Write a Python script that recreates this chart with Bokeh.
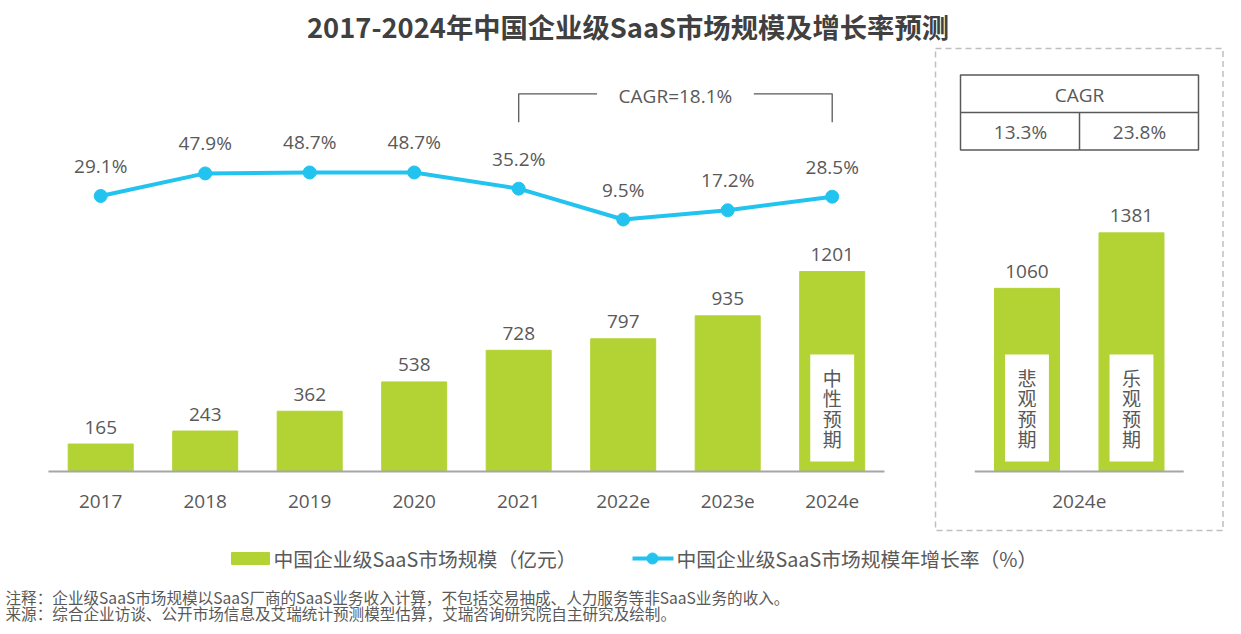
from bokeh.plotting import figure
from bokeh.models import Range1d
from bokeh.core.properties import value
from bokeh.embed import file_html
from bokeh.resources import INLINE

# ---------------- data ----------------
years = ["2017", "2018", "2019", "2020", "2021", "2022e", "2023e", "2024e"]
market = [165, 243, 362, 538, 728, 797, 935, 1201]          # 亿元
growth = [29.1, 47.9, 48.7, 48.7, 35.2, 9.5, 17.2, 28.5]    # %
base_scenario = "中性预期"
scenario_year = "2024e"
scenario_names = ["悲观预期", "乐观预期"]
scenario_values = [1060, 1381]
scenario_cagr = ["13.3%", "23.8%"]
cagr_label = "CAGR=18.1%"
cagr_head = "CAGR"
title_text = "2017-2024年中国企业级SaaS市场规模及增长率预测"
legend_labels = ["中国企业级SaaS市场规模（亿元）", "中国企业级SaaS市场规模年增长率（%）"]
notes = ["注释：企业级SaaS市场规模以SaaS厂商的SaaS业务收入计算，不包括交易抽成、人力服务等非SaaS业务的收入。",
         "来源：综合企业访谈、公开市场信息及艾瑞统计预测模型估算，艾瑞咨询研究院自主研究及绘制。"]

# ---------------- styling / geometry ----------------
GREEN = "#b3d335"
CYAN = "#22c4ef"
TXT = "#595959"
CJK = value("Noto Sans CJK SC")
NUM = value("Open Sans")

W, H = 1241, 634
OX, OY = 0, 0
x0_px, step_px = 100.2, 104.5
base_px = 471
k_left, k_right = 0.1665, 0.1728
pct_a, pct_k = 230.4, 1.2

p = figure(width=W, height=H, output_backend="svg", toolbar_location=None,
           x_axis_location=None, y_axis_location=None, min_border=0,
           x_range=Range1d((OX - x0_px) / step_px, (OX + W - x0_px) / step_px),
           y_range=Range1d(-(OY + H - base_px) / k_left, (base_px - OY) / k_left))
p.extra_y_ranges = {
    "right": Range1d(-(OY + H - base_px) / k_right, (base_px - OY) / k_right),
    "pct": Range1d((pct_a - (OY + H)) / pct_k, (pct_a - OY) / pct_k),
    "py": Range1d(OY + H, OY),
}
p.extra_x_ranges = {"px": Range1d(OX, OX + W)}
p.outline_line_color = None
p.background_fill_color = "white"
p.border_fill_color = "white"
p.grid.visible = False

n = len(years)
idx = list(range(n))
bw = 0.622
xr = [n + 0.864 + i for i in range(len(scenario_values))]

# bars
p.vbar(x=idx, top=market, width=bw, color=GREEN)
p.vbar(x=xr, top=scenario_values, width=bw, color=GREEN, y_range_name="right")

# baselines
p.segment(x0=[-0.5], x1=[n - 0.5], y0=[0], y1=[0], line_color="#a6a6a6", line_width=2)
p.segment(x0=[xr[0] - 0.5], x1=[xr[-1] + 0.5], y0=[0], y1=[0], line_color="#a6a6a6",
          line_width=2, y_range_name="right")

# white boxes with vertical scenario names
box_x = [idx[-1]] + xr
box_names = [base_scenario] + scenario_names
p.quad(left=[x - 0.21 for x in box_x], right=[x + 0.21 for x in box_x],
       top=[354] * 3, bottom=[461] * 3, fill_color="white", line_color=None, y_range_name="py")
p.text(x=box_x, y=[407.5] * 3, text=["\n".join(s) for s in box_names], y_range_name="py",
       text_align="center", text_baseline="middle", text_line_height=0.75,
       text_font=CJK, text_font_size="19px", text_color=TXT)

# bar value labels
p.text(x=idx, y=market, text=[str(v) for v in market], y_offset=-17,
       text_align="center", text_baseline="middle", text_font=NUM,
       text_font_size="19px", text_color=TXT)
p.text(x=xr, y=scenario_values, text=[str(v) for v in scenario_values], y_offset=-17,
       text_align="center", text_baseline="middle", text_font=NUM,
       text_font_size="19px", text_color=TXT, y_range_name="right")

# growth line
p.line(x=idx, y=growth, line_color=CYAN, line_width=4, y_range_name="pct")
p.scatter(x=idx, y=growth, size=13, color=CYAN, y_range_name="pct")
p.text(x=idx, y=growth, text=[f"{g}%" for g in growth], y_offset=-30,
       text_align="center", text_baseline="middle", text_font=NUM,
       text_font_size="19px", text_color=TXT, y_range_name="pct")

# category labels
p.text(x=idx, y=[501] * n, text=years, y_range_name="py", text_align="center",
       text_baseline="middle", text_font=NUM, text_font_size="19px", text_color=TXT)
p.text(x=[(xr[0] + xr[-1]) / 2], y=[501], text=[scenario_year], y_range_name="py",
       text_align="center", text_baseline="middle", text_font=NUM,
       text_font_size="19px", text_color=TXT)

# CAGR bracket
i0, i1 = years.index("2021"), n - 1
mid = (i0 + i1) / 2
p.multi_line(xs=[[i0, i0, mid - 0.75], [mid + 0.75, i1, i1]],
             ys=[[121.7, 93.3, 93.3], [93.3, 93.3, 121.7]],
             line_color=TXT, line_width=1.3, y_range_name="py")
p.text(x=[mid], y=[95], text=[cagr_label], y_range_name="py", text_align="center",
       text_baseline="middle", text_font=NUM, text_font_size="19px", text_color=TXT)

# right panel dashed box and CAGR table
p.quad(left=[935], right=[1222.5], top=[48], bottom=[530], fill_color=None,
       line_color="#bfbfbf", line_dash="6 4", line_width=1.5, x_range_name="px", y_range_name="py")
p.quad(left=[960], right=[1198], top=[74.5], bottom=[149.5], fill_color=None,
       line_color=TXT, line_width=1.5, x_range_name="px", y_range_name="py")
p.segment(x0=[960, 1079], x1=[1198, 1079], y0=[112, 112], y1=[112, 149.5],
          line_color=TXT, line_width=1.5, x_range_name="px", y_range_name="py")
p.text(x=[1079, 1020, 1139], y=[94, 131, 131], text=[cagr_head] + scenario_cagr,
       x_range_name="px", y_range_name="py", text_align="center", text_baseline="middle",
       text_font=NUM, text_font_size="19px", text_color=TXT)

# title
p.text(x=[627.5], y=[25], text=[title_text], x_range_name="px", y_range_name="py",
       text_align="center", text_baseline="middle", text_font=CJK, text_font_style="bold",
       text_font_size="27.3px", text_color="#404040")

# legend (drawn)
p.quad(left=[231], right=[269], top=[552], bottom=[564], color=GREEN,
       x_range_name="px", y_range_name="py")
p.segment(x0=[632], x1=[673], y0=[558], y1=[558], line_color=CYAN, line_width=4,
          x_range_name="px", y_range_name="py")
p.scatter(x=[652], y=[558], size=11, color=CYAN, x_range_name="px", y_range_name="py")
p.text(x=[273, 676], y=[558, 558], text=legend_labels, x_range_name="px", y_range_name="py",
       text_align="left", text_baseline="middle", text_font=CJK, text_font_size="19.8px",
       text_color=TXT)

# footnotes
p.text(x=[5, 5], y=[596, 612.5], text=notes, x_range_name="px", y_range_name="py",
       text_align="left", text_baseline="middle", text_font=CJK, text_font_size="15.6px",
       text_color=TXT)

open("out.html", "w").write(file_html(p, INLINE))
